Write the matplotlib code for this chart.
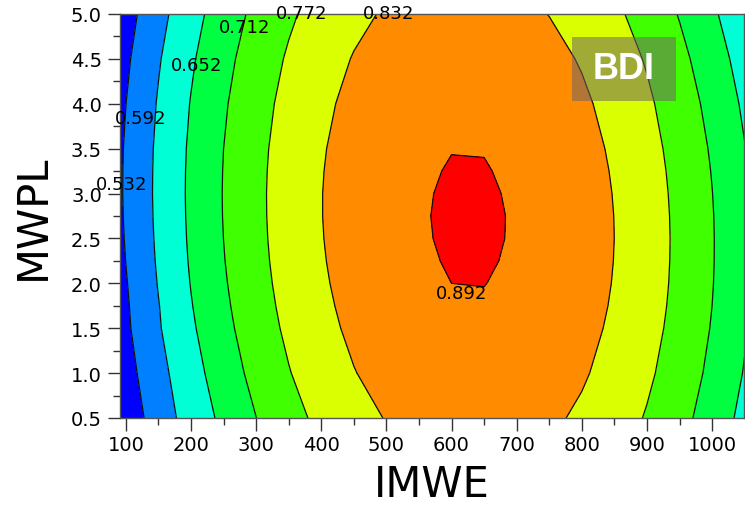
import matplotlib
matplotlib.use('Agg')
import numpy as np
import matplotlib.pyplot as plt
from matplotlib.ticker import MultipleLocator, FormatStrFormatter

# grid
imwe = [90, 150, 200, 250, 300, 350, 400, 450, 500, 550,
        600, 650, 700, 750, 800, 850, 900, 950, 1000, 1050]
mwpl = [0.5, 1.0, 1.5, 1.75, 2.0, 2.25, 2.5, 2.75, 3.0, 3.25, 3.5, 4.0, 4.5, 5.0]

bdi = [
    [0.482, 0.561, 0.617, 0.6646, 0.7115, 0.7520, 0.7859, 0.8133, 0.8343, 0.8487,
     0.8566, 0.8581, 0.8530, 0.8414, 0.8233, 0.7988, 0.7677, 0.7301, 0.6861, 0.6355],
    [0.497, 0.574, 0.6294, 0.6825, 0.7291, 0.7693, 0.8029, 0.8300, 0.8507, 0.8648,
     0.8724, 0.8736, 0.8682, 0.8563, 0.8380, 0.8131, 0.7817, 0.7438, 0.6995, 0.6486],
    [0.509, 0.587, 0.6437, 0.6965, 0.7428, 0.7826, 0.8160, 0.8428, 0.8631, 0.8769,
     0.8842, 0.8851, 0.8794, 0.8672, 0.8485, 0.8233, 0.7916, 0.7535, 0.7088, 0.6576],
    [0.512, 0.5900, 0.6492, 0.7019, 0.7481, 0.7877, 0.8209, 0.8476, 0.8678, 0.8814,
     0.8886, 0.8893, 0.8835, 0.8711, 0.8523, 0.8270, 0.7952, 0.7569, 0.7120, 0.6607],
    [0.5154, 0.5948, 0.6539, 0.7064, 0.7524, 0.7919, 0.8249, 0.8515, 0.8715, 0.8850,
     0.8920, 0.8925, 0.8866, 0.8741, 0.8551, 0.8296, 0.7976, 0.7592, 0.7142, 0.6627],
    [0.5194, 0.5986, 0.6575, 0.7099, 0.7557, 0.7951, 0.8279, 0.8543, 0.8742, 0.8875,
     0.8944, 0.8948, 0.8886, 0.8760, 0.8569, 0.8312, 0.7991, 0.7604, 0.7153, 0.6637],
    [0.5222, 0.6013, 0.6600, 0.7122, 0.7580, 0.7972, 0.8299, 0.8561, 0.8758, 0.8891,
     0.8958, 0.8960, 0.8897, 0.8769, 0.8577, 0.8319, 0.7996, 0.7608, 0.7155, 0.6638],
    [0.5242, 0.6031, 0.6616, 0.7137, 0.7593, 0.7983, 0.8309, 0.8570, 0.8765, 0.8896,
     0.8962, 0.8962, 0.8898, 0.8769, 0.8574, 0.8315, 0.7990, 0.7601, 0.7147, 0.6627],
    [0.5252, 0.6039, 0.6623, 0.7142, 0.7596, 0.7985, 0.8309, 0.8568, 0.8762, 0.8891,
     0.8955, 0.8954, 0.8889, 0.8758, 0.8562, 0.8301, 0.7975, 0.7584, 0.7128, 0.6607],
    [0.5250, 0.6035, 0.6618, 0.7135, 0.7588, 0.7976, 0.8298, 0.8556, 0.8749, 0.8876,
     0.8939, 0.8937, 0.8869, 0.8737, 0.8540, 0.8277, 0.7950, 0.7558, 0.7100, 0.6578],
    [0.5240, 0.6023, 0.6604, 0.7120, 0.7571, 0.7957, 0.8278, 0.8534, 0.8726, 0.8852,
     0.8913, 0.8909, 0.8840, 0.8706, 0.8507, 0.8243, 0.7914, 0.7520, 0.7062, 0.6538],
    [0.5187, 0.5967, 0.6545, 0.7058, 0.7506, 0.7889, 0.8208, 0.8461, 0.8649, 0.8772,
     0.8830, 0.8823, 0.8751, 0.8614, 0.8412, 0.8146, 0.7814, 0.7417, 0.6955, 0.6428],
    [0.5096, 0.5872, 0.6447, 0.6957, 0.7402, 0.7782, 0.8097, 0.8347, 0.8532, 0.8652,
     0.8707, 0.8697, 0.8622, 0.8482, 0.8277, 0.8007, 0.7672, 0.7272, 0.6807, 0.6277],
    [0.4964, 0.5736, 0.6308, 0.6815, 0.7257, 0.7634, 0.7946, 0.8193, 0.8375, 0.8492,
     0.8544, 0.8531, 0.8453, 0.8310, 0.8102, 0.7829, 0.7491, 0.7088, 0.6620, 0.6087],
]

levels = [0.532, 0.592, 0.652, 0.712, 0.772, 0.832, 0.892]
band_colors = ['#0000ff', '#0080ff', '#00ffd5', '#00ff40', '#40ff00',
               '#d9ff00', '#ff8c00', '#ff0000']

# where each level label sits (data coords)
label_pos = {0.532: (94, 3.11), 0.592: (122, 3.84), 0.652: (208, 4.43),
             0.712: (283, 4.855), 0.772: (370, 5.01), 0.832: (504, 5.01),
             0.892: (616, 1.89)}

fig = plt.figure(figsize=(7.45, 5.1), dpi=100)
ax = fig.add_axes([120 / 745, 1 - 419 / 510, 624 / 745, 404 / 510])

X, Y = np.meshgrid(imwe, mwpl)
Z = np.array(bdi)
bounds = [0.0] + levels + [1.0]
ax.contourf(X, Y, Z, levels=bounds, colors=band_colors)
ax.contour(X, Y, Z, levels=levels, colors='#101010', linewidths=0.9)

for lev in levels:
    x, y = label_pos[lev]
    ax.text(x, y, '%.3f' % lev, fontsize=13, ha='center', va='center',
            color='black', zorder=5, clip_on=False)

ax.set_xlim(91, 1049)
ax.set_ylim(0.5, 5.0)
ax.xaxis.set_major_locator(MultipleLocator(100))
ax.xaxis.set_minor_locator(MultipleLocator(50))
ax.yaxis.set_major_locator(MultipleLocator(0.5))
ax.yaxis.set_minor_locator(MultipleLocator(0.25))
ax.yaxis.set_major_formatter(FormatStrFormatter('%.1f'))
ax.tick_params(which='major', length=9, width=1, labelsize=14, color='#333333')
ax.tick_params(which='minor', length=5, width=1, color='#333333')
ax.tick_params(axis='x', pad=3)
ax.tick_params(axis='y', pad=4)
for s in ax.spines.values():
    s.set_color('#555555')
    s.set_linewidth(1)

ax.set_xlabel('IMWE', fontsize=30, labelpad=7)
ax.set_ylabel('MWPL', fontsize=30, labelpad=12)

# BDI tag, semi-transparent box
fig.patches.append(plt.Rectangle((572 / 745, 1 - 102 / 510), 104 / 745, 64 / 510,
                                 transform=fig.transFigure, facecolor='#716464',
                                 alpha=0.55, edgecolor='none', zorder=10))
fig.text(624 / 745, 1 - 70 / 510, 'BDI', fontsize=26, fontweight='bold',
         family='Liberation Sans', color='white', ha='center', va='center', zorder=11)

fig.savefig('out.png', dpi=100)
